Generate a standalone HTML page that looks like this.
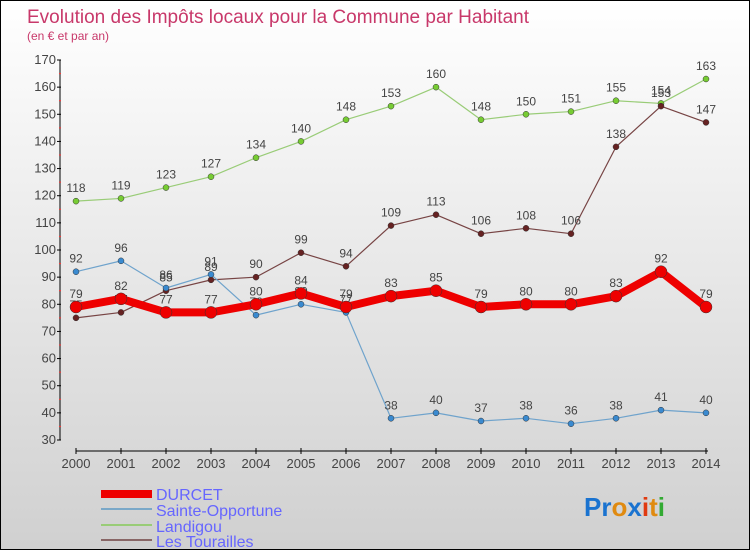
<!DOCTYPE html>
<html><head><meta charset="utf-8"><style>
body{margin:0}
#wrap{position:relative;width:748px;height:548px;border:1px solid #000;background:linear-gradient(#ffffff,#d0d0d0);font-family:"Liberation Sans",sans-serif;overflow:hidden}
</style></head><body>
<div id="wrap">
<svg id="svg" width="748" height="548" xmlns="http://www.w3.org/2000/svg">
<text x="26" y="22" font-size="19" fill="#c8386a" textLength="502">Evolution des Impôts locaux pour la Commune par Habitant</text>
<text x="26" y="39" font-size="12" fill="#c8386a">(en € et par an)</text>
<g id="axes"></g><g id="series"></g>
<g>
<rect x="100" y="489" width="51" height="8" fill="#ee0000"/>
<text x="155" y="499" font-size="16" fill="#6666ff">DURCET</text>
<rect x="100" y="507" width="51" height="2" fill="#7aa8c8"/>
<text x="155" y="515" font-size="16" fill="#6666ff">Sainte-Opportune</text>
<rect x="100" y="523" width="51" height="2" fill="#99cc77"/>
<text x="155" y="531" font-size="16" fill="#6666ff">Landigou</text>
<rect x="100" y="538" width="51" height="2" fill="#886666"/>
<text x="155" y="546" font-size="16" fill="#6666ff">Les Tourailles</text>
</g>
<text x="583" y="515" font-size="26" font-weight="bold"><tspan fill="#1a73d0">Pr</tspan><tspan fill="#e08a10">o</tspan><tspan fill="#1a73d0">x</tspan><tspan fill="#e03a10">i</tspan><tspan fill="#e08a10">t</tspan><tspan fill="#33aa33">i</tspan></text>
</svg>
</div>
<script>
const years=[2000,2001,2002,2003,2004,2005,2006,2007,2008,2009,2010,2011,2012,2013,2014];
const yTicks=[30,40,50,60,70,80,90,100,110,120,130,140,150,160,170];
const durcet=[79,82,77,77,80,84,79,83,85,79,80,80,83,92,79];
const sainte=[92,96,86,91,76,80,77,38,40,37,38,36,38,41,40];
const landigou=[118,119,123,127,134,140,148,153,160,148,150,151,155,154,163];
const tourailles=[75,77,85,89,90,99,94,109,113,106,108,106,138,153,147];
const NS="http://www.w3.org/2000/svg";
const xS=i=>75+i*45;
const yS=v=>439-(v-30)*380/140;
function mk(tag,attrs,parent){const e=document.createElementNS(NS,tag);for(const k in attrs)e.setAttribute(k,attrs[k]);parent.appendChild(e);return e;}
const ax=document.getElementById('axes');
const yAxis=mk('line',{x1:59,y1:yS(170),x2:59,y2:yS(30),stroke:'#000'},ax);


yTicks.forEach(t=>{
 mk('line',{x1:56,x2:60,y1:yS(t),y2:yS(t),stroke:'#000'},ax);
 if(t<170) mk('line',{x1:58,x2:60,y1:yS(t+5),y2:yS(t+5),stroke:'#f33'},ax);
 const tx=mk('text',{x:55,y:yS(t)+4,'font-size':13,fill:'#444','text-anchor':'end'},ax);
 tx.textContent=t;
 
 
});
const xAxis=mk('line',{x1:75,x2:707,y1:450,y2:450,stroke:'#000'},ax);


years.forEach((y,i)=>{
 mk('line',{x1:xS(i),x2:xS(i),y1:447,y2:453,stroke:'#000'},ax);
 const tx=mk('text',{x:xS(i),y:467,'font-size':13,fill:'#444','text-anchor':'middle'},ax);
 tx.textContent=y;
 
 
});
const sg=document.getElementById('series');
function draw(vals,color,dot,w,r,name){
 const g=mk('g',{},sg);
 
 
 const pl=mk('polyline',{points:vals.map((v,i)=>xS(i)+','+yS(v)).join(' '),fill:'none',stroke:color,'stroke-width':w,'stroke-linejoin':'round'},g);
 
 
 vals.forEach((v,i)=>{
  const c=mk('circle',{cx:xS(i),cy:yS(v),r:r,fill:dot,stroke:'#333','stroke-width':0.5},g);
  
  
  const t=mk('text',{x:xS(i),y:yS(v)-9,'font-size':12,fill:'#444','text-anchor':'middle'},g);
  t.textContent=v;
  
  
 });
}
draw(landigou,'#99cc77','#77cc33',1.2,3,'landigou');
draw(tourailles,'#774444','#662222',1.2,3,'les-tourailles');
draw(sainte,'#6fa3cc','#3a8ad0',1.2,3,'sainte-opportune');
draw(durcet,'#ee0000','#ee0000',8,6,'durcet');
</script>
</body></html>
